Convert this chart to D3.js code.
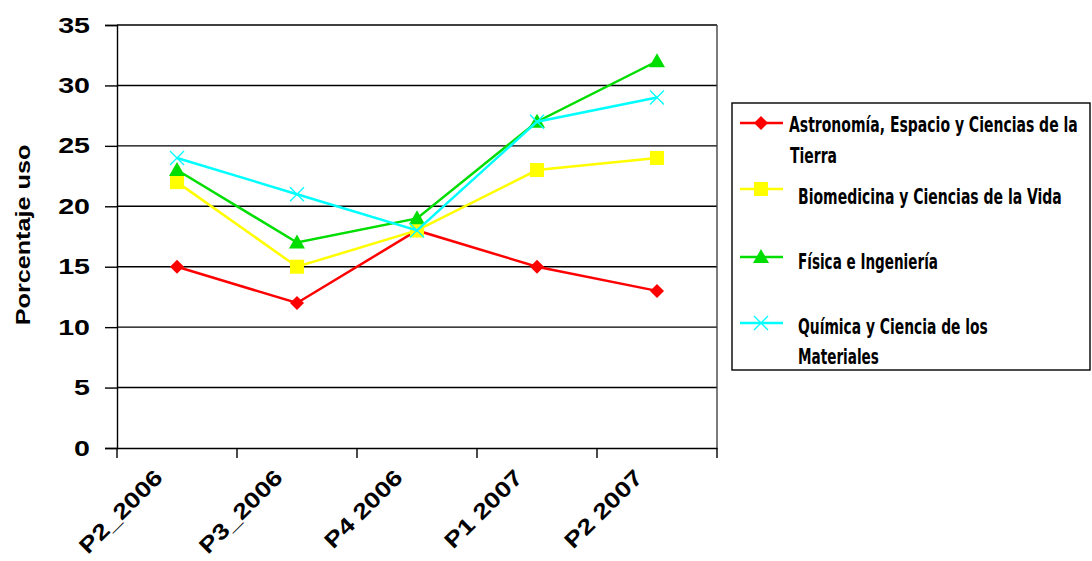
<!DOCTYPE html>
<html><head><meta charset="utf-8">
<script src="https://cdn.jsdelivr.net/npm/d3@7"></script>
<style>body{margin:0;background:#fff}</style>
</head><body>
<svg id="c" width="1092" height="561"></svg>
<script>
const categories = ["P2_2006","P3_2006","P4 2006","P1 2007","P2 2007"];
const astronomia = [15,12,18,15,13];
const biomedicina = [22,15,18,23,24];
const fisica = [23,17,19,27,32];
const quimica = [24,21,18,27,29];
const yTicks = [0,5,10,15,20,25,30,35];
const seriesNames = [["Astronomía, Espacio y Ciencias de la","Tierra"],["Biomedicina y Ciencias de la Vida"],["Física e Ingeniería"],["Química y Ciencia de los","Materiales"]];
const colors = ["#ff0000","#ffff00","#00dd00","#00ffff"];
const symbols = ["diamond","square","triangle","x"];
const series = [astronomia,biomedicina,fisica,quimica];

const svg = d3.select("#c");
const L=117,R=717,T=25,B=448;
const x = d3.scaleBand().domain(categories).range([L,R]);
const y = d3.scaleLinear().domain([0,35]).range([B,T]);
const stretch = (sel,k)=>sel.each(function(){const w=this.getComputedTextLength();d3.select(this).attr("textLength",w*k).attr("lengthAdjust","spacingAndGlyphs");});

// gridlines
svg.append("g").selectAll("line").data(yTicks.filter(d=>d>0)).join("line")
  .attr("x1",L).attr("x2",R).attr("y1",d=>y(d)).attr("y2",d=>y(d))
  .attr("stroke","#000").attr("stroke-width",1.4);
svg.append("line").attr("x1",R).attr("x2",R).attr("y1",T).attr("y2",B).attr("stroke","#444").attr("stroke-width",1.4);

const ya = svg.append("g").attr("transform",`translate(${L},0)`)
  .call(d3.axisLeft(y).tickValues(yTicks).tickSize(12).tickPadding(15));
ya.select(".domain").attr("stroke","#000").attr("stroke-width",1.4);
ya.selectAll(".tick line").attr("stroke","#000").attr("stroke-width",1.4);
ya.selectAll("text").attr("font-family","Liberation Sans, Arial").attr("font-weight","bold").attr("font-size",22).attr("fill","#000");
stretch(ya.selectAll("text"),1.3);

const xa = svg.append("g").attr("transform",`translate(0,${B})`)
  .call(d3.axisBottom(x).tickSize(0).tickFormat(""));
xa.select(".domain").attr("stroke","#000").attr("stroke-width",1.4);
svg.append("g").selectAll("line").data(d3.range(categories.length+1)).join("line")
  .attr("x1",i=>L+i*x.step()).attr("x2",i=>L+i*x.step())
  .attr("y1",B).attr("y2",B+10).attr("stroke","#000").attr("stroke-width",1.4);
const xl = svg.append("g").selectAll("text").data(categories).join("text")
  .attr("transform",d=>`translate(${x(d)+x.bandwidth()/2-13},${B+31}) rotate(-45)`)
  .attr("text-anchor","end")
  .attr("font-family","Liberation Sans, Arial").attr("font-weight","bold").attr("font-size",22)
  .text(d=>d);
stretch(xl,1.22);

const yt = svg.append("text").attr("transform","translate(30,235) rotate(-90)")
  .attr("text-anchor","middle").attr("font-family","Liberation Sans, Arial").attr("font-weight","bold").attr("font-size",21)
  .text("Porcentaje uso");
stretch(yt,1.2);

function drawSym(g,type,cx,cy,color){
  if(type==="diamond"){
    g.append("path").attr("d",`M${cx},${cy-7}L${cx+7},${cy}L${cx},${cy+7}L${cx-7},${cy}Z`).attr("fill",color);
  } else if(type==="square"){
    g.append("rect").attr("x",cx-7).attr("y",cy-7).attr("width",14).attr("height",14).attr("fill",color);
  } else if(type==="triangle"){
    g.append("path").attr("d",`M${cx},${cy-8}L${cx+8},${cy+6}L${cx-8},${cy+6}Z`).attr("fill",color);
  } else {
    g.append("path").attr("d",`M${cx-7},${cy-7}L${cx+7},${cy+7}M${cx+7},${cy-7}L${cx-7},${cy+7}`).attr("stroke",color).attr("stroke-width",1.3);
  }
}
const line = d3.line().x((d,i)=>x(categories[i])+x.bandwidth()/2).y(d=>y(d));
series.forEach((s,k)=>{
  const g = svg.append("g");
  g.append("path").datum(s).attr("d",line).attr("fill","none").attr("stroke",colors[k]).attr("stroke-width",2.5);
  s.forEach((v,i)=>drawSym(g,symbols[k],x(categories[i])+x.bandwidth()/2,y(v),colors[k]));
});

// legend
const lg = svg.append("g");
lg.append("rect").attr("x",732).attr("y",103).attr("width",358).attr("height",267).attr("fill","#fff").attr("stroke","#000").attr("stroke-width",1.4);
const symY=[123,189,257,323];
const textY=[[124,155],[196],[261],[326,356]];
const textX=[[789,790],[798],[798],[798,798]];
const textW=[[289,47],[264],[140],[190,81]];
seriesNames.forEach((n,k)=>{
  lg.append("line").attr("x1",740).attr("x2",783).attr("y1",symY[k]).attr("y2",symY[k]).attr("stroke",colors[k]).attr("stroke-width",2.5);
  drawSym(lg,symbols[k],761,symY[k],colors[k]);
  n.forEach((t,j)=>{
    const tx = lg.append("text").attr("x",0).attr("y",0).attr("dy","0.36em")
      .attr("font-family","DejaVu Sans Condensed, DejaVu Sans").attr("font-size",21).attr("font-weight","bold")
      .text(t);
    const w = tx.node().getComputedTextLength();
    tx.attr("transform",`translate(${textX[k][j]},${textY[k][j]}) scale(${textW[k][j]/w},1)`);
  });
});
</script>
</body></html>
